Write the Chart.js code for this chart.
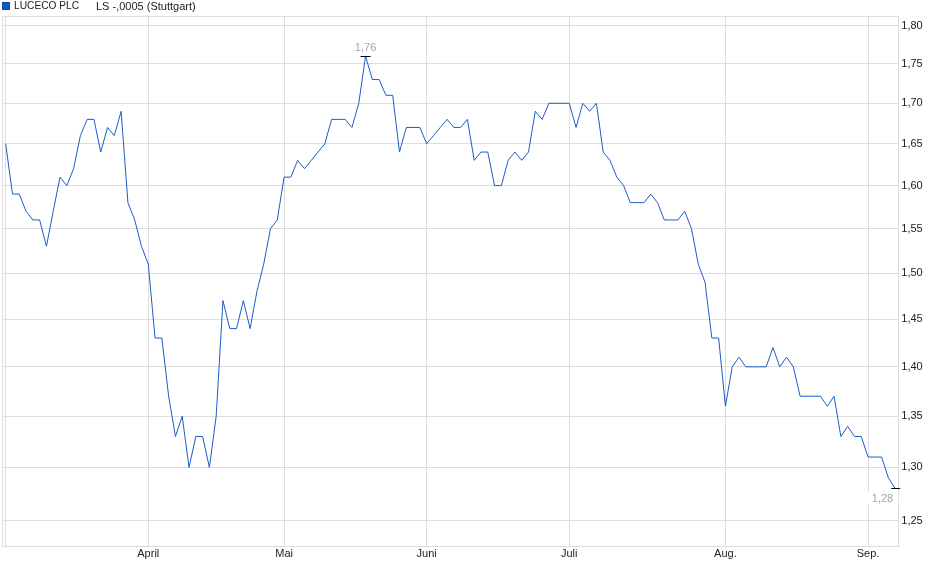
<!DOCTYPE html>
<html>
<head>
<meta charset="utf-8">
<title>LUCECO PLC</title>
<script src="https://cdn.jsdelivr.net/npm/chart.js@4/dist/chart.umd.min.js"></script>
<style>
  body { margin: 0; background: #fff; font-family: "Liberation Sans", Arial, sans-serif; }
  #wrap { position: relative; width: 940px; height: 579px; }
  #chart { position: absolute; left: 0; top: 0; }
  .lg { position: absolute; top: 0; font-size: 11px; line-height: 12px; color: #222; white-space: nowrap; }
  #box { position: absolute; left: 2px; top: 2px; width: 6px; height: 6px; background: #1a56c8; border: 1px solid #134aa8; }
</style>
</head>
<body>
<div id="wrap">
  <canvas id="chart" width="940" height="579"></canvas>
  <div id="box"></div>
  <div class="lg" style="left:14px;font-size:10.2px">LUCECO PLC</div>
  <div class="lg" style="left:96px">LS -,0005 (Stuttgart)</div>
</div>
<script>
// daily closes
const closes = [
  1.65, 1.59, 1.59, 1.57, 1.56, 1.56, 1.53, 1.57, 1.61, 1.60,
  1.62, 1.66, 1.68, 1.68, 1.64, 1.67, 1.66, 1.69, 1.58, 1.56,
  1.53, 1.51, 1.43, 1.43, 1.37, 1.33, 1.35, 1.30, 1.33, 1.33,
  1.30, 1.35, 1.47, 1.44, 1.44, 1.47, 1.44, 1.48, 1.51, 1.55,
  1.56, 1.61, 1.61, 1.63, 1.62, 1.63, 1.64, 1.65, 1.68, 1.68,
  1.68, 1.67, 1.70, 1.76, 1.73, 1.73, 1.71, 1.71, 1.64, 1.67,
  1.67, 1.67, 1.65, 1.66, 1.67, 1.68, 1.67, 1.67, 1.68, 1.63,
  1.64, 1.64, 1.60, 1.60, 1.63, 1.64, 1.63, 1.64, 1.69, 1.68,
  1.70, 1.70, 1.70, 1.70, 1.67, 1.70, 1.69, 1.70, 1.64, 1.63,
  1.61, 1.60, 1.58, 1.58, 1.58, 1.59, 1.58, 1.56, 1.56, 1.56,
  1.57, 1.55, 1.51, 1.49, 1.43, 1.43, 1.36, 1.40, 1.41, 1.40,
  1.40, 1.40, 1.40, 1.42, 1.40, 1.41, 1.40, 1.37, 1.37, 1.37,
  1.37, 1.36, 1.37, 1.33, 1.34, 1.33, 1.33, 1.31, 1.31, 1.31,
  1.29, 1.28
];

// first trading day of each month (index into closes)
const monthPos = [0, 21, 41, 62, 83, 106, 127];
const monthNames = ["", "April", "Mai", "Juni", "Juli", "Aug.", "Sep."];

const yTicks = [1.25, 1.30, 1.35, 1.40, 1.45, 1.50, 1.55, 1.60, 1.65, 1.70, 1.75, 1.80];

const gridColor = "#dcdcdc";
const lineColor = "#1a5cc8";
const fontFamily = "'Liberation Sans', Arial, sans-serif";

Chart.defaults.font.family = fontFamily;
Chart.defaults.font.size = 11;

const fmt = (v) => v.toFixed(2).replace(".", ",");

// border round the plot area
const frame = {
  id: "frame",
  beforeDatasetsDraw(chart) {
    const a = chart.chartArea;
    const ctx = chart.ctx;
    ctx.save();
    ctx.strokeStyle = gridColor;
    ctx.lineWidth = 1;
    const l = Math.round(a.left - 0.5) + 0.5;
    const r = Math.round(a.right - 0.5) + 0.5;
    const t = Math.round(a.top - 0.5) + 0.5;
    const b = Math.round(a.bottom - 0.5) + 0.5;
    ctx.strokeRect(l, t, r - l, b - t);
    ctx.restore();
  },
};

// high and last value markers
const marks = {
  id: "marks",
  afterDatasetsDraw(chart) {
    const ctx = chart.ctx;
    const xs = chart.scales.x;
    const ys = chart.scales.y;
    const hi = closes.indexOf(Math.max(...closes));
    const last = closes.length - 1;

    ctx.save();
    ctx.font = "11px " + fontFamily;
    ctx.lineWidth = 1;
    ctx.strokeStyle = "#000";

    // high
    let px = xs.getPixelForValue(hi);
    let py = Math.round(ys.getPixelForValue(closes[hi])) + 0.5;
    ctx.beginPath();
    ctx.moveTo(px - 5, py);
    ctx.lineTo(px + 5, py);
    ctx.stroke();
    ctx.fillStyle = "#a2a4b0";
    ctx.textAlign = "center";
    ctx.textBaseline = "middle";
    ctx.fillText(fmt(closes[hi]), px, py - 9);

    // last
    px = xs.getPixelForValue(last);
    py = Math.round(ys.getPixelForValue(closes[last])) + 0.5;
    const txt = fmt(closes[last]);
    const w = ctx.measureText(txt).width;
    ctx.fillStyle = "#fff";
    ctx.fillRect(px - 2 - w - 4, py + 3.5, w + 9, 13);
    ctx.beginPath();
    ctx.moveTo(px - 4, py);
    ctx.lineTo(px + 5, py);
    ctx.stroke();
    ctx.fillStyle = "#a2a4b0";
    ctx.textAlign = "right";
    ctx.fillText(txt, px - 2, py + 10);
    ctx.restore();
  },
};

new Chart(document.getElementById("chart"), {
  type: "line",
  data: {
    datasets: [
      {
        label: "LUCECO PLC",
        data: closes.map((v, i) => ({ x: i, y: v })),
        borderColor: lineColor,
        borderWidth: 1,
        pointRadius: 0,
        tension: 0,
        fill: false,
      },
    ],
  },
  options: {
    responsive: false,
    animation: false,
    layout: { padding: { left: 2.7, top: 16, right: 0, bottom: 0 } },
    plugins: {
      legend: { display: false },
      tooltip: { enabled: false },
    },
    scales: {
      x: {
        type: "linear",
        bounds: "data",
        min: -0.44,
        max: 131.46,
        afterBuildTicks: (s) => {
          s.ticks = monthPos.map((v) => ({ value: v }));
        },
        afterFit: (s) => {
          s.height = 33;
        },
        ticks: {
          autoSkip: false,
          maxRotation: 0,
          padding: 1,
          color: "#222",
          callback: (v, i) => monthNames[i],
        },
        grid: { color: gridColor, drawTicks: false },
        border: { display: false },
      },
      y: {
        type: "logarithmic",
        position: "right",
        min: 1.2269,
        max: 1.8129,
        afterBuildTicks: (s) => {
          s.ticks = yTicks.map((v) => ({ value: v }));
        },
        afterFit: (s) => {
          s.width = 41.7;
        },
        ticks: {
          padding: 3,
          color: "#222",
          callback: (v, i) => fmt(yTicks[i]),
        },
        grid: { color: gridColor, drawTicks: false },
        border: { display: false },
      },
    },
  },
  plugins: [frame, marks],
});
</script>
</body>
</html>
